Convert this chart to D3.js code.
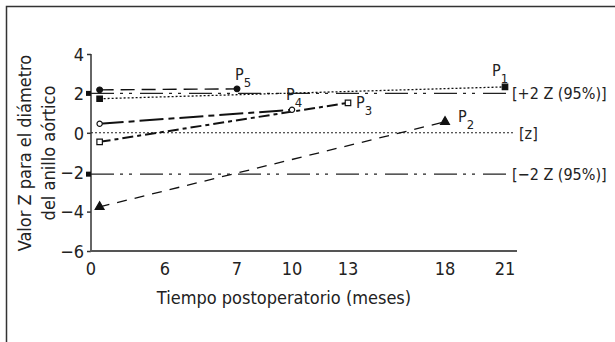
<!DOCTYPE html>
<html>
<head>
<meta charset="utf-8">
<script src="https://cdn.jsdelivr.net/npm/d3@7"></script>
<style>
  body { margin: 0; background: #fff; }
  text { font-family: "Liberation Sans Narrow", "DejaVu Sans Condensed", "Arial Narrow", sans-serif; fill: #222; }
</style>
</head>
<body>
<div id="chart"></div>
<script>
var width = 615,
    height = 342;

// data
var xTicks = [0, 6, 7, 10, 13, 18, 21];
var yTicks = [4, 2, 0, -2, -4, -6];

var patients   = ["P1", "P2", "P3", "P4", "P5"];
var startMonth = [0.7, 0.7, 0.7, 0.7, 0.7];
var startZ     = [1.73, -3.76, -0.46, 0.46, 2.18];
var endMonth   = [21, 18, 13, 10, 7];
var endZ       = [2.33, 0.56, 1.52, 1.17, 2.23];

var refLabels = ["[+2 Z (95%)]", "[z]", "[\u22122 Z (95%)]"];
var refZ      = [2.0, 0, -2.1];

// styles
var lineStyle = {
  P1: { dash: "2,2", w: 1.3, sym: d3.symbolSquare, size: 30, fill: "#111", lx: -13, ly: -11 },
  P2: { dash: "10,8", w: 1.3, sym: d3.symbolTriangle, size: 34, fill: "#111", lx: 13, ly: 0 },
  P3: { dash: "11,4,4,4", w: 2, sym: d3.symbolSquare, size: 30, fill: "#fff", lx: 8, ly: 5 },
  P4: { dash: "24,5,6,5", w: 2, sym: d3.symbolCircle, size: 22, fill: "#fff", lx: -6, ly: -10 },
  P5: { dash: "14,7", w: 1.4, sym: d3.symbolCircle, size: 26, fill: "#111", lx: -2, ly: -9 }
};
var refDash = ["23,6,3,6,3,8", "2,2", "23,6,3,6,3,8"];

var svg = d3.select("#chart").append("svg")
    .attr("width", width)
    .attr("height", height);

// frame (runs off the right and bottom edges)
svg.append("rect")
    .attr("x", 6.5).attr("y", 6.5)
    .attr("width", 700).attr("height", 400)
    .attr("fill", "none")
    .attr("stroke", "#333")
    .attr("stroke-width", 1.5);

// the x axis is not linear in the original, so piecewise
var x = d3.scaleLinear()
    .domain(xTicks)
    .range([91, 165, 237, 292, 348, 445, 505]);

var y = d3.scaleLinear()
    .domain([-6, 4])
    .range([251, 54]);

var axisEnd = 517;

// y axis
var yAxis = svg.append("g")
    .attr("transform", "translate(" + x(0) + ",0)")
    .call(d3.axisLeft(y).tickValues(yTicks).tickSize(4).tickPadding(3)
      .tickFormat(function(d) { return d < 0 ? "\u2212" + (-d) : d; }));
yAxis.select(".domain").attr("stroke", "#333").attr("stroke-width", 1.5).attr("d", "M0," + y(4) + "V" + y(-6));
yAxis.selectAll(".tick line").attr("stroke", "#333").attr("stroke-width", 1.5);
yAxis.selectAll(".tick text").style("font-size", "18px").attr("dy", "0.35em").attr("fill", "#222");

// x axis (no tick marks)
svg.append("line")
    .attr("x1", x(0) - 1).attr("x2", axisEnd)
    .attr("y1", y(-6)).attr("y2", y(-6))
    .attr("stroke", "#555").attr("stroke-width", 2);

svg.append("g").selectAll("text")
    .data(xTicks)
    .enter().append("text")
    .attr("x", function(d) { return x(d); })
    .attr("y", 275)
    .attr("text-anchor", "middle")
    .style("font-size", "18px")
    .text(function(d) { return d; });

// axis titles
svg.append("text")
    .attr("x", 284).attr("y", 304)
    .attr("text-anchor", "middle")
    .style("font-size", "18px")
    .text("Tiempo postoperatorio (meses)");

var ytitle = svg.append("text")
    .attr("transform", "translate(31,153)rotate(-90)")
    .attr("text-anchor", "middle")
    .style("font-size", "18px");
ytitle.append("tspan").attr("x", 0).attr("y", 0).text("Valor Z para el diámetro");
ytitle.append("tspan").attr("x", 0).attr("y", 24).text("del anillo aórtico");

// reference lines
refZ.forEach(function(v, i) {
  svg.append("line")
      .attr("x1", x(0)).attr("x2", i == 1 ? 514 : 511)
      .attr("y1", y(v)).attr("y2", y(v))
      .attr("stroke", "#222")
      .attr("stroke-width", i == 1 ? 1.1 : 1.4)
      .attr("stroke-dasharray", refDash[i]);
  svg.append("text")
      .attr("x", i == 1 ? 519 : 512)
      .attr("y", y(v))
      .attr("dy", "0.36em")
      .style("font-size", "16px")
      .text(refLabels[i]);
  if (i != 1) {
    svg.append("rect")
        .attr("x", x(0) - 5).attr("y", y(v) - 2.5)
        .attr("width", 5).attr("height", 5)
        .attr("fill", "#111");
  }
});

// patient lines
patients.forEach(function(p, i) {
  var s = lineStyle[p];
  var x0 = x(startMonth[i]), y0 = y(startZ[i]),
      x1 = x(endMonth[i]), y1 = y(endZ[i]);

  svg.append("line")
      .attr("x1", x0).attr("y1", y0)
      .attr("x2", x1).attr("y2", y1)
      .attr("stroke", "#111")
      .attr("stroke-width", s.w)
      .attr("stroke-dasharray", s.dash);

  [[x0, y0], [x1, y1]].forEach(function(pt) {
    svg.append("path")
        .attr("d", d3.symbol().type(s.sym).size(s.size))
        .attr("transform", "translate(" + pt[0] + "," + pt[1] + ")")
        .attr("fill", s.fill)
        .attr("stroke", "#111")
        .attr("stroke-width", 1.2);
  });

  var lab = svg.append("text")
      .attr("x", x1 + s.lx)
      .attr("y", y1 + s.ly)
      .style("font-size", "16px");
  lab.append("tspan").text("P");
  lab.append("tspan").attr("dy", 7).style("font-size", "13px").text(p.slice(1));
});
</script>
</body>
</html>
